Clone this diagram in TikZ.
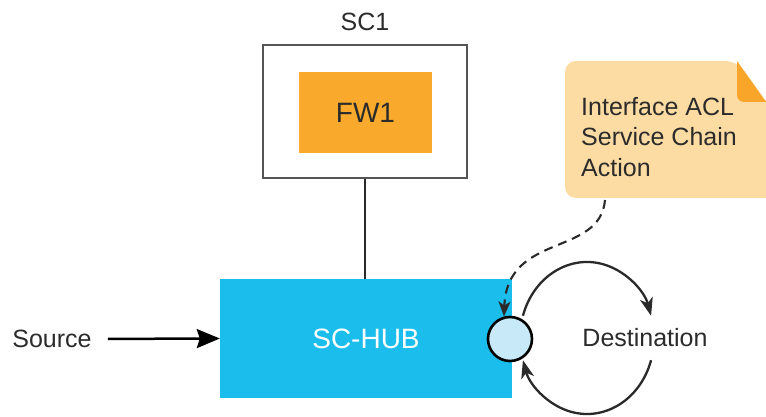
\documentclass[tikz,border=0pt]{standalone}
\usepackage{fontspec}
\setmainfont{Liberation Sans}
\usetikzlibrary{arrows.meta}
\definecolor{hubcol}{HTML}{1BBDEC}
\definecolor{fwcol}{HTML}{F9A92B}
\definecolor{notebg}{HTML}{FDDCA3}
\definecolor{flapcol}{HTML}{F9A52A}
\definecolor{portcol}{HTML}{C7E9F8}
\definecolor{txt}{HTML}{2B2B2B}
\definecolor{scgray}{HTML}{555555}
\definecolor{linecol}{HTML}{2A2A2A}
\begin{document}
\begin{tikzpicture}[x=1pt,y=1pt,
  lbl/.style={font=\fontsize{25}{30}\selectfont, text=txt, inner sep=0pt},
  biglbl/.style={font=\fontsize{28}{32}\selectfont, inner sep=0pt},
  loopline/.style={draw=linecol, line width=2.3pt, -{Stealth[length=18pt,width=13pt,inset=5pt]}},
]
\useasboundingbox (0,0) rectangle (766,417);

% SC1 container
\node[draw=scgray, line width=2.8pt, minimum width=204, minimum height=133, inner sep=0pt] (sc1) at (365,305.5) {};
\node[lbl] (sc1lbl) at (365,395) {SC1};
\node[biglbl, fill=fwcol, text=txt, minimum width=133, minimum height=81] (fw1) at (365.5,304.5) {FW1};

% SC-HUB
\node[biglbl, fill=hubcol, text=white, minimum width=292, minimum height=119] (hub) at (366,78.5) {SC-HUB};
\draw[linecol, line width=2.5pt] (sc1.south) -- (sc1.south |- hub.north);

% port
\node[circle, draw=black, line width=2.6pt, fill=portcol, minimum size=44, inner sep=0pt] (port) at (510,78) {};

% Source
\node[lbl] (src) at (52,78) {Source};
\draw[line width=2.5pt, black, shorten <=16pt, -{Stealth[length=23pt,width=19pt,inset=3pt]}] (src.east) -- (hub.west);

% Destination and loop
\node[lbl] (dst) at (645,79) {Destination};
\coordinate (ell) at (587,79);
\draw[loopline] (ell) ++(163:67 and 76) arc[start angle=163, end angle=17, x radius=67, y radius=76];
\draw[loopline] (ell) ++(-17:67 and 76) arc[start angle=-17, end angle=-163, x radius=67, y radius=76];

% note
\fill[notebg, rounded corners=11pt] (766,219) -- (565,219) -- (565,356) -- (737,356) [sharp corners] -- (766,316) -- (766,219) -- cycle;
\fill[flapcol] (766,315) -- (744,315) arc[start angle=-90, end angle=-180, radius=7] -- (737,356) -- cycle;
\node[lbl, anchor=west, align=left, font=\fontsize{25}{30.5}\selectfont] (notetext) at (581,280) {Interface ACL\\Service Chain\\Action};
\coordinate (ns) at (605,217);
\draw[linecol, line width=2.1pt, dash pattern=on 9pt off 6pt, -{Stealth[length=15pt,width=12pt,inset=4pt]}] (ns) .. controls (600,160) and (507,185) .. (port.105);
\end{tikzpicture}
\end{document}
